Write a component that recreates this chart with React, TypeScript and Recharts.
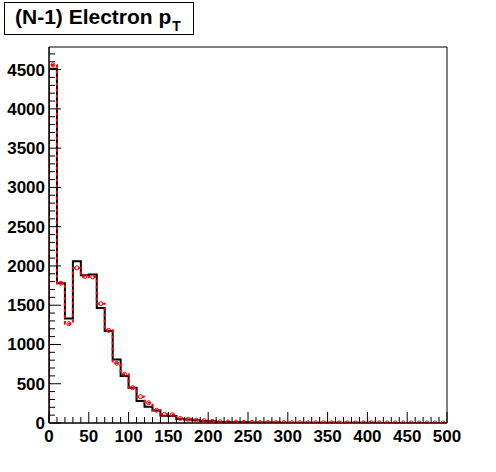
import { ComposedChart, Line, Scatter, XAxis, YAxis, ReferenceArea } from 'recharts';

// lower edges of the 10 GeV bins
const BIN_LOW = [
    0, 10, 20, 30, 40, 50, 60, 70, 80, 90,
    100, 110, 120, 130, 140, 150, 160, 170, 180, 190,
    200, 210, 220, 230, 240, 250, 260, 270, 280, 290,
    300, 310, 320, 330, 340, 350, 360, 370, 380, 390,
    400, 410, 420, 430, 440, 450, 460, 470, 480, 490,
];

// black solid histogram
const BLACK = [
    4510, 1780, 1330, 2060, 1880, 1890, 1465, 1170, 810, 600,
    450, 280, 207, 160, 93, 90, 52, 43, 34, 26,
    21, 14, 12, 10, 8, 7, 6, 5, 5, 4,
    4, 3, 3, 3, 3, 2, 2, 2, 2, 2,
    2, 1, 1, 1, 1, 1, 1, 1, 1, 1,
];

// red dashed histogram
const RED = [
    4560, 1780, 1265, 1975, 1865, 1860, 1520, 1180, 760, 620,
    450, 335, 258, 162, 110, 106, 58, 46, 37, 30,
    22, 17, 13, 11, 9, 8, 6, 6, 5, 4,
    4, 4, 3, 3, 3, 3, 2, 2, 2, 2,
    2, 2, 1, 1, 1, 1, 1, 1, 1, 1,
];

const X_MAX = 500;
const BIN_W = 10;
const X_LABELS = [0, 50, 100, 150, 200, 250, 300, 350, 400, 450, 500];
const Y_LABELS = [0, 500, 1000, 1500, 2000, 2500, 3000, 3500, 4000, 4500];

const Y_MAX = Math.max(...BLACK, ...RED) * 1.05;

const X_TICKS = Array.from({ length: X_MAX / 10 + 1 }, (_, i) => i * 10);
const Y_TICKS = Array.from({ length: Math.floor(Y_MAX / 100) + 1 }, (_, i) => i * 100);

const FONT = '"Liberation Sans", Arial, Helvetica, sans-serif';

// step rows: start at zero on the left edge, close on the right edge
const stepRows = [
    { x: 0, black: 0, red: 0 },
    ...BIN_LOW.map((lo, i) => ({ x: lo, black: BLACK[i], red: RED[i] })),
    { x: X_MAX, black: BLACK[BLACK.length - 1], red: RED[RED.length - 1] },
];

const centerRows = BIN_LOW.map((lo, i) => ({ x: lo + BIN_W / 2, red: RED[i] }));

function XTick({ x, y, payload }: any) {
    const major = X_LABELS.includes(payload.value);
    return (
        <g>
            <line x1={x} y1={y} x2={x} y2={y - (major ? 11 : 6)} stroke="#000" strokeWidth={1} />
            {major && (
                <text x={x} y={y + 19} textAnchor="middle" fontFamily={FONT} fontWeight="bold" fontSize={17} fill="#000">
                    {payload.value}
                </text>
            )}
        </g>
    );
}

function YTick({ x, y, payload }: any) {
    const major = Y_LABELS.includes(payload.value);
    return (
        <g>
            <line x1={x} y1={y} x2={x + (major ? 12 : 6)} y2={y} stroke="#000" strokeWidth={1} />
            {major && (
                <text x={x - 4} y={y + 6} textAnchor="end" fontFamily={FONT} fontWeight="bold" fontSize={17} fill="#000">
                    {payload.value}
                </text>
            )}
        </g>
    );
}

const openCircle = (props: any) => (
    <circle cx={props.cx} cy={props.cy} r={2} fill="none" stroke="#ff0000" strokeWidth={1} />
);

export default function App() {
    return (
        <div style={{ position: 'absolute', left: 0, top: 0, width: 496, height: 472, background: '#fff' }}>
            <ComposedChart
                width={496}
                height={472}
                margin={{ top: 47, right: 49, bottom: 0, left: 0 }}
            >
                <XAxis
                    type="number"
                    dataKey="x"
                    domain={[0, X_MAX]}
                    ticks={X_TICKS}
                    interval={0}
                    height={49}
                    tickSize={0}
                    tickMargin={0}
                    tickLine={false}
                    axisLine={{ stroke: '#000', strokeWidth: 1 }}
                    tick={<XTick />}
                    allowDataOverflow
                />
                <YAxis
                    type="number"
                    domain={[0, Y_MAX]}
                    ticks={Y_TICKS}
                    interval={0}
                    width={49}
                    tickSize={0}
                    tickMargin={0}
                    tickLine={false}
                    axisLine={{ stroke: '#000', strokeWidth: 1 }}
                    tick={<YTick />}
                    allowDataOverflow
                />
                <ReferenceArea
                    x1={0}
                    x2={X_MAX}
                    y1={0}
                    y2={Y_MAX}
                    fill="none"
                    stroke="#000"
                    strokeWidth={1}
                />
                <Line
                    data={stepRows}
                    type="stepAfter"
                    dataKey="black"
                    stroke="#000"
                    strokeWidth={2}
                    dot={false}
                    isAnimationActive={false}
                />
                <Line
                    data={stepRows}
                    type="stepAfter"
                    dataKey="red"
                    stroke="#ff0000"
                    strokeWidth={2}
                    strokeDasharray="3 3"
                    dot={false}
                    isAnimationActive={false}
                />
                <Scatter
                    data={centerRows}
                    dataKey="red"
                    shape={openCircle}
                    isAnimationActive={false}
                />
            </ComposedChart>

            {/* title box */}
            <svg width={200} height={40} style={{ position: 'absolute', left: 0, top: 0 }}>
                <rect x={4.5} y={2.5} width={189} height={32} fill="#fff" stroke="#000" strokeWidth={1} />
                <text x={15} y={24} fontFamily={FONT} fontWeight="bold" fontSize={21} fill="#000">
                    (N-1) Electron p
                    <tspan dx={1} dy={7} fontSize={14}>T</tspan>
                </text>
            </svg>
        </div>
    );
}
